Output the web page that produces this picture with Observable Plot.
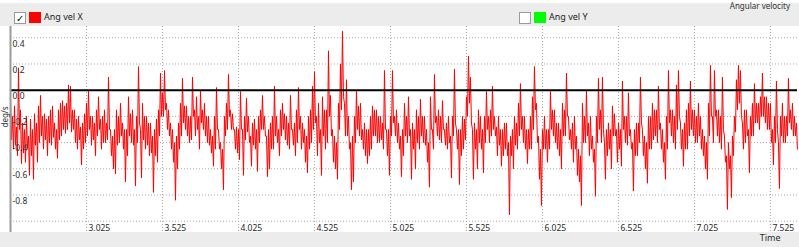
<!DOCTYPE html>
<html>
<head>
<meta charset="utf-8">
<script src="https://cdn.jsdelivr.net/npm/d3@7"></script>
<script src="https://cdn.jsdelivr.net/npm/@observablehq/plot@0.6"></script>
<style>
  html, body { margin: 0; padding: 0; }
  body { width: 799px; height: 247px; overflow: hidden; background: #fff; font-family: "Noto Sans", "Open Sans", sans-serif; }
  #legend { position: relative; width: 799px; height: 26px; background: linear-gradient(#fff 0px, #fff 3px, #ececec 3px); overflow: hidden; }
  .box { position: absolute; top: 12px; width: 10px; height: 10px; background: #fff; border: 1px solid #9a9a9a; font-size: 10px; line-height: 10px; text-align: center; color: #111; }
  .sw { position: absolute; top: 12px; width: 12px; height: 11px; }
  .lt { position: absolute; top: 10px; font-size: 9px; line-height: 13px; color: #222; }
  #title { position: absolute; right: 9px; top: 1px; font-size: 8px; line-height: 9px; color: #333; }
  #chart svg { display: block; }
</style>
</head>
<body>
<div id="legend">
  <div class="box" style="left:14px">&#10003;</div>
  <div class="sw" style="left:29px;background:#ff0000"></div>
  <div class="lt" style="left:44px">Ang vel X</div>
  <div class="box" style="left:519px"></div>
  <div class="sw" style="left:534px;background:#00ff00"></div>
  <div class="lt" style="left:549px">Ang vel Y</div>
  <div id="title">Angular velocity</div>
</div>
<div id="chart"></div>
<script>
// Time axis
const startTime = 2.525;          // s, first sample
const sampleInterval = 0.0065789; // s between samples
const xTickValues = [3.025, 3.525, 4.025, 4.525, 5.025, 5.525, 6.025, 6.525, 7.025, 7.525];
const yTickValues = [0.4, 0.2, 0.0, -0.2, -0.4, -0.6, -0.8];
const yGridValues = [0.4, 0.2, -0.2, -0.4, -0.6, -0.8, -1.0];

// Ang vel X (deg/s)
const angVelX = [
  // 2.525 - 3.262
  -0.05,-0.38,-0.2,-0.45,-0.12,-0.42,-0.28,-0.5,0.17,-0.3,-0.15,-0.56,-0.25,-0.48,-0.3,-0.55,
  -0.2,-0.45,-0.35,-0.65,-0.22,-0.5,-0.3,-0.68,-0.18,-0.42,-0.25,-0.55,-0.12,-0.4,-0.04,-0.35,
  -0.2,-0.45,-0.18,-0.38,-0.22,-0.5,-0.2,-0.4,-0.15,-0.42,-0.12,-0.36,-0.25,-0.45,-0.3,-0.52,
  -0.15,-0.38,-0.1,-0.35,-0.08,-0.3,-0.12,-0.33,-0.1,-0.3,0.04,-0.25,0.03,-0.32,-0.15,-0.3,
  -0.15,-0.4,-0.22,-0.45,-0.2,-0.38,-0.28,-0.57,-0.25,-0.45,-0.18,-0.4,-0.1,-0.35,0.0,-0.3,
  -0.2,-0.42,-0.2,-0.38,-0.25,-0.5,-0.15,-0.35,-0.05,-0.3,-0.22,-0.45,-0.2,-0.4,-0.15,-0.4,
  -0.25,-0.38,0.1,-0.3,-0.3,-0.5,-0.35,-0.6,-0.3,-0.64,-0.15,-0.42,-0.2,-0.4,-0.1,-0.35,
  // 3.262 - 4.0
  -0.25,-0.45,-0.3,-0.7,-0.3,-0.5,-0.05,-0.35,-0.18,-0.4,-0.15,-0.42,-0.3,-0.73,-0.2,-0.4,
  0.18,-0.25,-0.3,-0.67,-0.1,-0.38,-0.2,-0.45,-0.2,-0.42,-0.25,-0.5,-0.25,-0.48,-0.35,-0.78,
  -0.3,-0.5,-0.22,-0.55,-0.15,-0.35,0.13,-0.2,-0.02,-0.2,0.15,-0.15,-0.1,-0.3,-0.15,-0.35,
  -0.25,-0.45,-0.3,-0.55,-0.4,-0.84,-0.35,-0.6,-0.25,-0.45,-0.1,-0.35,0.09,-0.25,-0.12,-0.3,
  -0.12,-0.35,-0.2,-0.4,-0.2,-0.38,0.1,-0.2,-0.15,-0.35,-0.05,-0.3,-0.2,-0.45,0.0,-0.25,
  -0.15,-0.3,-0.1,-0.35,-0.2,-0.4,-0.2,-0.42,-0.3,-0.48,-0.35,-0.58,-0.2,-0.45,0.02,-0.3,
  -0.3,-0.45,-0.4,-0.6,-0.45,-0.76,-0.2,-0.35,-0.1,-0.3,0.12,-0.2,-0.15,-0.3,-0.18,-0.3,
  // 4.0 - 4.736
  -0.3,-0.45,-0.28,-0.48,-0.3,-0.53,-0.01,-0.3,-0.3,-0.65,-0.2,-0.38,-0.06,-0.32,-0.2,-0.4,
  -0.35,-0.58,-0.25,-0.42,-0.22,-0.45,-0.3,-0.62,-0.2,-0.4,-0.15,-0.3,-0.04,-0.3,-0.2,-0.35,
  -0.35,-0.66,-0.3,-0.6,-0.25,-0.45,-0.2,-0.45,0.03,-0.35,-0.2,-0.4,-0.3,-0.5,-0.15,-0.35,
  -0.1,-0.3,-0.18,-0.38,-0.2,-0.42,-0.25,-0.45,-0.04,-0.3,-0.3,-0.42,-0.25,-0.5,-0.15,-0.4,
  0.02,-0.3,-0.2,-0.45,-0.25,-0.4,-0.3,-0.55,-0.35,-0.63,-0.2,-0.45,-0.15,-0.4,0.03,-0.3,
  0.14,-0.25,-0.2,-0.5,-0.1,-0.4,-0.3,-0.65,-0.05,-0.35,-0.15,-0.45,-0.15,-0.4,0.3,-0.2,
  -0.04,-0.35,-0.3,-0.55,-0.35,-0.6,-0.4,-0.68,-0.1,-0.3,0.2,-0.15,0.45,-0.05,-0.1,-0.35,
  // 4.736 - 5.473
  0.08,-0.35,-0.2,-0.45,-0.4,-0.76,-0.35,-0.7,-0.2,-0.4,0.0,-0.3,-0.12,-0.35,-0.1,-0.38,
  -0.3,-0.45,-0.25,-0.5,-0.3,-0.56,-0.3,-0.5,-0.2,-0.45,-0.12,-0.35,-0.15,-0.35,-0.15,-0.4,
  -0.2,-0.4,-0.2,-0.38,-0.25,-0.45,0.15,-0.3,-0.3,-0.5,-0.3,-0.65,-0.2,-0.35,0.15,-0.25,
  -0.2,-0.35,-0.15,-0.4,-0.25,-0.45,-0.35,-0.66,-0.3,-0.5,-0.1,-0.35,-0.2,-0.4,-0.05,-0.35,
  -0.3,-0.68,-0.25,-0.45,-0.3,-0.6,-0.15,-0.4,-0.2,-0.45,-0.07,-0.35,-0.2,-0.4,-0.2,-0.42,
  -0.3,-0.55,-0.4,-0.74,-0.05,-0.3,-0.3,-0.45,0.12,-0.25,-0.2,-0.35,-0.15,-0.38,-0.2,-0.4,
  -0.08,-0.3,-0.3,-0.42,-0.25,-0.45,-0.2,-0.4,-0.35,-0.67,-0.2,-0.35,0.16,-0.25,-0.3,-0.45,
  // 5.473 - 6.210
  -0.3,-0.72,-0.3,-0.5,-0.2,-0.45,-0.22,-0.38,-0.05,-0.2,0.26,-0.1,0.1,-0.25,-0.3,-0.68,
  -0.25,-0.45,-0.3,-0.6,-0.15,-0.4,-0.2,-0.45,-0.3,-0.63,-0.2,-0.4,-0.01,-0.3,-0.2,-0.4,
  -0.15,-0.35,0.03,-0.3,-0.2,-0.35,-0.28,-0.5,-0.2,-0.42,-0.3,-0.58,-0.3,-0.5,-0.25,-0.45,
  -0.25,-0.5,-0.4,-0.95,-0.35,-0.5,-0.3,-0.6,-0.2,-0.42,-0.25,-0.45,-0.1,-0.35,0.05,-0.3,
  -0.2,-0.4,-0.2,-0.45,-0.3,-0.56,-0.3,-0.45,-0.2,-0.45,-0.05,-0.3,0.18,-0.15,-0.1,-0.4,
  -0.35,-0.68,-0.45,-0.88,-0.3,-0.45,-0.2,-0.45,-0.3,-0.55,-0.3,-0.45,-0.01,-0.3,-0.15,-0.35,
  -0.15,-0.4,-0.25,-0.45,-0.25,-0.5,-0.3,-0.6,-0.1,-0.35,-0.15,-0.35,0.13,-0.2,-0.2,-0.38,
  // 6.210 - 6.947
  -0.3,-0.45,-0.25,-0.55,-0.2,-0.45,-0.35,-0.65,-0.45,-0.7,-0.5,-0.88,-0.1,-0.4,-0.2,-0.4,
  0.0,-0.35,-0.25,-0.5,-0.2,-0.45,-0.35,-0.55,-0.45,-0.81,-0.2,-0.4,0.09,-0.3,-0.15,-0.4,
  0.1,-0.3,-0.4,-0.68,-0.3,-0.5,-0.25,-0.45,-0.3,-0.6,-0.12,-0.35,-0.18,-0.35,-0.3,-0.55,
  -0.25,-0.45,-0.3,-0.58,0.07,-0.3,-0.2,-0.4,-0.2,-0.42,-0.02,-0.35,-0.3,-0.45,-0.4,-0.77,
  -0.3,-0.5,-0.25,-0.5,-0.25,-0.4,0.1,-0.25,-0.3,-0.5,-0.35,-0.6,-0.4,-0.71,-0.2,-0.45,
  -0.2,-0.45,-0.1,-0.38,-0.15,-0.35,-0.15,-0.4,0.03,-0.3,-0.25,-0.45,-0.3,-0.55,-0.4,-0.68,
  -0.2,-0.45,0.15,-0.25,-0.15,-0.35,-0.15,-0.4,-0.2,-0.45,0.04,-0.3,0.15,-0.2,-0.25,-0.45,
  // 6.947 - 7.703
  -0.3,-0.58,-0.25,-0.45,-0.15,-0.45,-0.1,-0.35,0.07,-0.3,-0.15,-0.35,-0.15,-0.4,-0.2,-0.4,
  -0.1,-0.35,-0.2,-0.45,-0.3,-0.5,-0.35,-0.6,-0.4,-0.68,-0.1,-0.35,0.19,-0.2,-0.2,-0.4,
  0.15,-0.2,-0.15,-0.35,-0.15,-0.4,-0.2,-0.45,0.1,-0.3,-0.35,-0.55,-0.5,-0.91,-0.4,-0.6,
  -0.5,-0.82,-0.35,-0.5,-0.2,-0.32,0.08,-0.15,0.19,-0.1,0.15,-0.2,-0.25,-0.45,-0.15,-0.4,
  -0.15,-0.35,-0.3,-0.63,-0.2,-0.35,-0.1,-0.35,0.05,-0.25,-0.1,-0.25,-0.1,-0.3,-0.05,-0.2,
  0.13,-0.2,-0.05,-0.25,-0.05,-0.3,-0.1,-0.3,-0.1,-0.4,-0.3,-0.57,-0.2,-0.4,0.07,-0.3,
  -0.4,-0.75,-0.2,-0.35,-0.1,-0.4,-0.2,-0.4,-0.2,-0.35,0.09,-0.25,-0.15,-0.3,-0.1,-0.35,
  -0.2,-0.35,-0.25,-0.45
];

const samples = angVelX.map((v, i) => ({time: startTime + i * sampleInterval, value: v}));

const gridStyle = {stroke: "#a8a8a8", strokeOpacity: 1, strokeWidth: 1, strokeDasharray: "1,2"};
const textColor = "#2a2a2a";

const chart = Plot.plot({
  width: 799,
  height: 221,
  marginLeft: 10,
  marginRight: 2,
  marginTop: 0,
  marginBottom: 15,
  style: {background: "linear-gradient(to bottom, #ffffff 206px, #ececec 206px)", fontFamily: "'Noto Sans', sans-serif", overflow: "visible"},
  x: {domain: [2.525, 7.703]},
  y: {domain: [-1.086, 0.486]},
  marks: [
    Plot.gridX(xTickValues, gridStyle),
    Plot.gridY(yGridValues, gridStyle),
    Plot.line(samples, {x: "time", y: "value", stroke: "#ff0000", strokeWidth: 1}),
    Plot.ruleY([0], {stroke: "#000", strokeWidth: 2}),
    Plot.ruleX([2.525], {stroke: "#9a9a9a", strokeWidth: 2}),
    Plot.axisX(xTickValues, {anchor: "bottom", tickSize: 0, tickPadding: 0, textAnchor: "start", lineAnchor: "bottom", dx: 2, dy: -1.5, fontSize: 8.5, fill: textColor, tickFormat: d => d.toFixed(3), label: null}),
    Plot.axisY(yTickValues, {anchor: "left", tickSize: 0, tickPadding: 0, textAnchor: "start", dx: 2, dy: 6, fontSize: 8.5, fill: textColor, tickFormat: d => d.toFixed(1), label: null}),
    Plot.text(["deg/s"], {frameAnchor: "left", rotate: -90, dx: -5, dy: -2, fontSize: 8, fill: textColor}),
    Plot.text(["Time"], {frameAnchor: "bottom-right", textAnchor: "end", dx: -17, dy: 8, fontSize: 9, fill: textColor})
  ]
});
document.getElementById("chart").appendChild(chart);
</script>
</body>
</html>
